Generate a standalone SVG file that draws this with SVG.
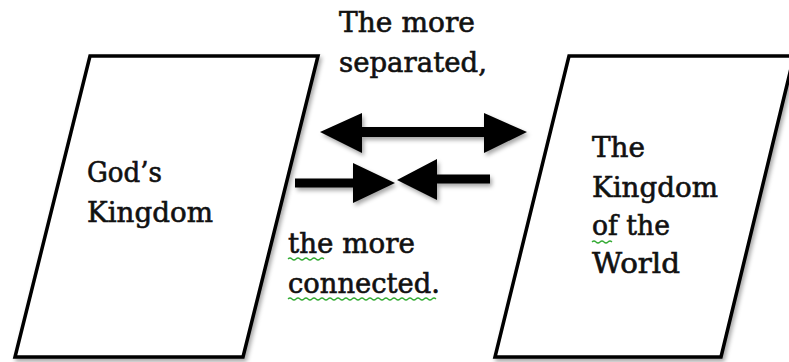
<svg xmlns="http://www.w3.org/2000/svg" width="789" height="362" viewBox="0 0 789 362">
<defs>
<filter id="sh" x="-10%" y="-10%" width="130%" height="140%">
<feDropShadow dx="2" dy="3" stdDeviation="2" flood-color="#000" flood-opacity="0.35"/>
</filter>
</defs>
<style>
.shape{fill:#fff;stroke:#000;stroke-width:3.5;stroke-linejoin:miter;filter:url(#sh)}
.arrow{fill:#000;filter:url(#sh)}
.t{font-family:"DejaVu Serif","Liberation Serif",serif;font-size:27px;fill:#111;stroke:#111;stroke-width:0.6}
.sq{fill:none;stroke:#3a3;stroke-width:1.2}
</style>
<rect width="789" height="362" fill="#fff"/>
<g id="gods-kingdom">
<polygon class="shape" points="90,56 318,56 243,357 15,357"/>
<text class="t" x="87" y="182" textLength="75" lengthAdjust="spacingAndGlyphs">God’s</text>
<text class="t" x="87" y="222" textLength="126" lengthAdjust="spacingAndGlyphs">Kingdom</text>
</g>
<g id="kingdom-of-the-world">
<polygon class="shape" points="569,56 794,56 721,357 495,357"/>
<text class="t" x="592" y="157" textLength="53" lengthAdjust="spacingAndGlyphs">The</text>
<text class="t" x="592" y="197" textLength="126" lengthAdjust="spacingAndGlyphs">Kingdom</text>
<text class="t" x="592" y="235" textLength="78" lengthAdjust="spacingAndGlyphs">of the</text>
<text class="t" x="592" y="273" textLength="88" lengthAdjust="spacingAndGlyphs">World</text>
<path class="sq" d="M592,242 q2,-2 4,0 t4,0 t4,0 t4,0 t4,0"/>
</g>
<g id="label-separated">
<text class="t" x="339" y="32" textLength="136" lengthAdjust="spacingAndGlyphs">The more</text>
<text class="t" x="339" y="72" textLength="148" lengthAdjust="spacingAndGlyphs">separated,</text>
</g>
<g id="label-connected">
<text class="t" x="288" y="253" textLength="127" lengthAdjust="spacingAndGlyphs">the more</text>
<text class="t" x="288" y="293" textLength="152" lengthAdjust="spacingAndGlyphs">connected.</text>
<path class="sq" d="M288,259 q2,-2 4,0 t4,0 t4,0 t4,0 t4,0 t4,0 t4,0 t4,0 t4,0"/>
<path class="sq" d="M288,299 q2,-2 4,0 t4,0 t4,0 t4,0 t4,0 t4,0 t4,0 t4,0 t4,0 t4,0 t4,0 t4,0 t4,0 t4,0 t4,0 t4,0 t4,0 t4,0 t4,0 t4,0 t4,0 t4,0 t4,0 t4,0 t4,0 t4,0 t4,0 t4,0 t4,0 t4,0 t4,0 t4,0 t4,0 t4,0 t4,0 t4,0 t4,0"/>
</g>
<g id="connectors">
<polygon class="arrow" points="320,132 362,113 362,127 484,127 484,113 527,132 484,153 484,137 362,137 362,153"/>
<polygon class="arrow" points="295,178.5 353,178.5 353,163 395,183 353,203 353,187.5 295,187.5"/>
<polygon class="arrow" points="490,174.5 437,174.5 437,159 397,180 437,200 437,183.5 490,183.5"/>
</g>
</svg>
